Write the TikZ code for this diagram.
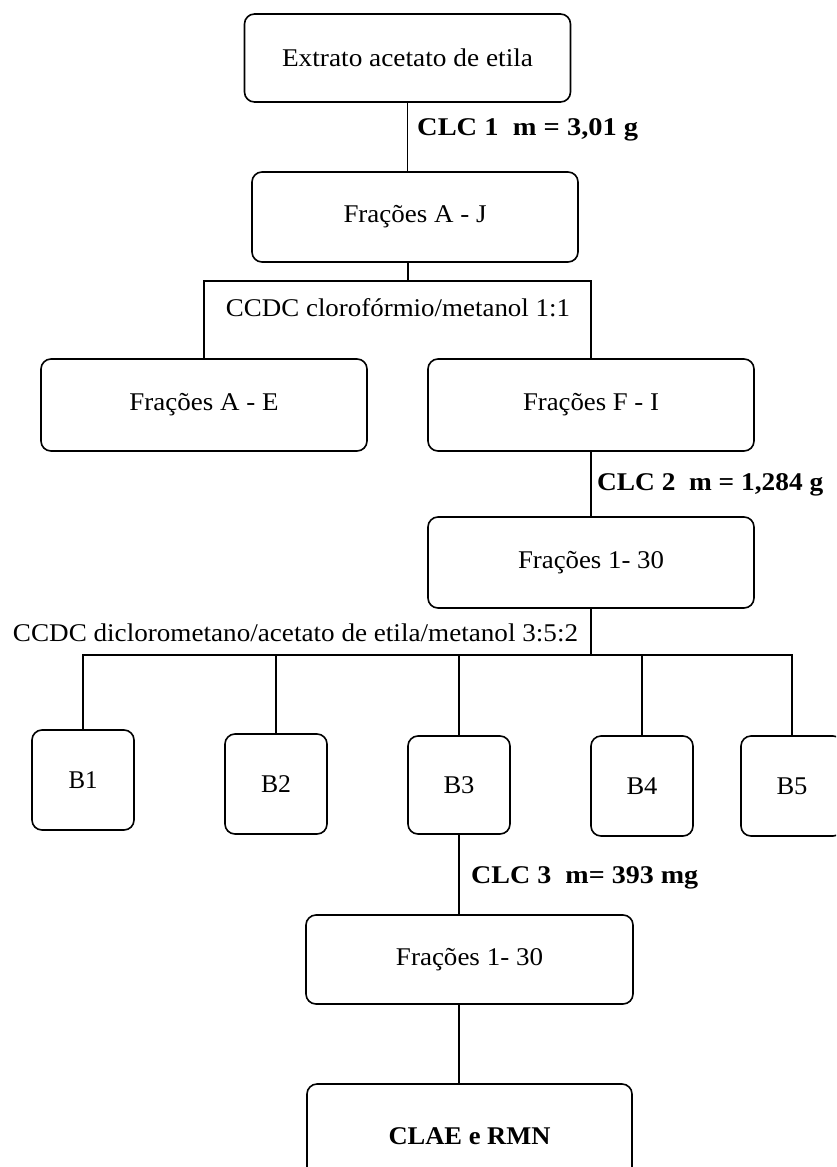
\documentclass[tikz,border=0pt]{standalone}
\usepackage{fontspec}
\setmainfont{Liberation Serif}
\newcommand\tw[2]{\resizebox{#1pt}{\height}{#2}}
\begin{document}
\begin{tikzpicture}[x=1pt,y=-1pt,
  box/.style={draw, rounded corners=10pt, line width=1.6pt, inner sep=0pt, fill=white},
  wide/.style={box, minimum width=326pt, minimum height=90pt},
  small/.style={box, minimum width=102pt, minimum height=100pt},
  conn/.style={line width=1.6pt},
  lbl/.style={inner sep=0pt},
  every node/.style={font=\fontsize{25.5}{30}\selectfont}]
\useasboundingbox (0,0) rectangle (836,1167);
\fill[white] (0,0) rectangle (836,1167);
\clip (0,0) rectangle (836,1167);
% boxes
\node[wide, minimum height=88pt] (top) at (407.5,58) {\tw{251}{Extrato acetato de etila}};
\node[wide] (aj) at (415,217) {\tw{143}{Frações A - J}};
\node[wide, minimum height=92pt] (ae) at (204,405) {\tw{149}{Frações A - E}};
\node[wide, minimum height=92pt] (fi) at (591,405) {\tw{136}{Frações F - I}};
\node[wide, minimum height=91pt] (fa) at (591,562.5) {\tw{146}{Frações 1- 30}};
\node[small] (b1) at (83,780) {\tw{29}{B1}};
\node[small] (b2) at (276,784) {\tw{30}{B2}};
\node[small, minimum height=98pt] (b3) at (459,785) {\tw{31}{B3}};
\node[small] (b4) at (642,786) {\tw{31}{B4}};
\node[small] (b5) at (792,786) {\tw{31}{B5}};
\node[wide, minimum width=327pt, minimum height=89pt] (fb) at (469.5,959.5) {\tw{147}{Frações 1- 30}};
\node[wide, minimum width=325pt, minimum height=104pt] (clae) at (469.5,1136) {\tw{162}{\bfseries CLAE e RMN}};
% labels
\node[lbl, anchor=west] (l1) at (417,130) {\tw{221}{\bfseries CLC 1\ \ m = 3,01 g}};
\node[lbl] (l2) at (398,308) {\tw{344}{CCDC clorofórmio/metanol 1:1}};
\node[lbl, anchor=west] (l3) at (597,485) {\tw{226}{\bfseries CLC 2\ \ m = 1,284 g}};
\node[lbl] (l4) at (295.5,633) {\tw{565}{CCDC diclorometano/acetato de etila/metanol 3:5:2}};
\node[lbl, anchor=west] (l5) at (471,878) {\tw{227}{\bfseries CLC 3\ \ m= 393 mg}};
% connectors
\coordinate (bus1) at (408,281);
\coordinate (bus2) at (591,655);
\draw[conn] (top.south) -- (top.south |- aj.north);
\draw[conn] (aj.south -| bus1) -- (bus1);
\draw[conn] (ae.north) |- (bus1) -| (fi.north);
\draw[conn] (fi.south) -- (fa.north);
\draw[conn] (fa.south) -- (bus2);
\draw[conn] (b1.north) |- (bus2) -| (b5.north);
\draw[conn] (b2.north) -- (b2.north |- bus2);
\draw[conn] (b3.north) -- (b3.north |- bus2);
\draw[conn] (b4.north) -- (b4.north |- bus2);
\draw[conn] (b3.south) -- (b3.south |- fb.north);
\draw[conn] (fb.south -| b3.south) -- (clae.north -| b3.south);
\end{tikzpicture}
\end{document}
